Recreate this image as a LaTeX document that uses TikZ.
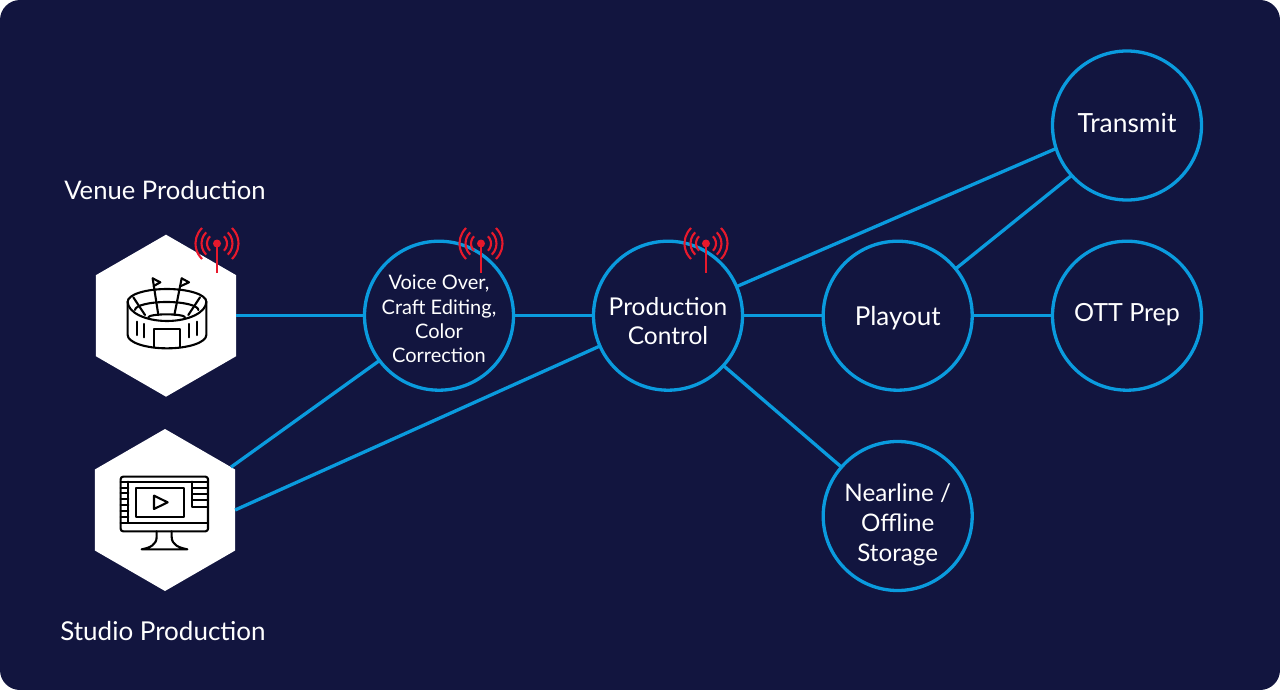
\documentclass[tikz,border=0pt]{standalone}
\usepackage{fontspec}
\setmainfont{Lato}
\usetikzlibrary{shapes.geometric}
\definecolor{bgnavy}{HTML}{12153F}
\definecolor{linkblue}{HTML}{0A9BDE}
\definecolor{sigred}{HTML}{E8192C}
\tikzset{
  ring/.style={circle,draw=linkblue,line width=3.3pt,minimum size=149pt,inner sep=0pt,outer sep=0pt},
  ringtext/.style={text=white,align=center,inner sep=0pt,font=\fontsize{#1}{29.7}\selectfont},
  hexa/.style={regular polygon,regular polygon sides=6,shape border rotate=30,fill=white,minimum size=162pt,inner sep=0pt,outer sep=0pt},
  link/.style={draw=linkblue,line width=3.3pt},
  hexcaption/.style={text=white,font=\fontsize{#1}{30}\selectfont,inner sep=0pt},
  icon/.style={draw=black,line width=2.1pt,line join=round,line cap=round},
}
\newcommand{\mysignal}[1]{%
  \begin{scope}[shift={(#1)}]
    \draw[sigred,line width=2pt] (0pt,0pt) -- (0pt,-29pt);
    \fill[sigred] (0pt,0pt) circle (4pt);
    \foreach \r in {10,15.5,21.5}{
      \draw[sigred,line width=2.1pt] ([shift={(-46:\r pt)}]0pt,0pt) arc[start angle=-46,end angle=46,radius=\r pt];
      \draw[sigred,line width=2.1pt] ([shift={(134:\r pt)}]0pt,0pt) arc[start angle=134,end angle=226,radius=\r pt];
    }
  \end{scope}}
\begin{document}
\begin{tikzpicture}[x=1pt,y=-1pt]
\useasboundingbox (0,0) rectangle (1280,690);
\fill[white] (0,0) rectangle (1280,690);
\fill[bgnavy,rounded corners=20pt] (0,0) rectangle (1280,690);

\node[hexa] (venue) at (166,315.7) {};
\node[hexa] (studio) at (165,510) {};
\node[ring,label={[ringtext=20,font=\fontsize{20}{24.3}\selectfont,yshift=-3.5pt]center:{Voice Over,\\Craft Editing,\\Color\\Correction}}] (voice) at (439,315.7) {};
\node[ring,label={[ringtext=24.5,font=\fontsize{24.5}{29}\selectfont,yshift=-5.3pt]center:{Production\\Control}}] (control) at (668,315.7) {};
\node[ring,label={[ringtext=26,yshift=-2pt]center:{Playout}}] (playout) at (897.7,315.7) {};
\node[ring,label={[ringtext=25,yshift=1.5pt]center:{OTT Prep}}] (ott) at (1127,315.7) {};
\node[ring,label={[ringtext=26.4,yshift=2.5pt]center:{Transmit}}] (transmit) at (1127,125.5) {};
\node[ring,label={[ringtext=24.2,font=\fontsize{24.2}{30}\selectfont,yshift=-8.5pt]center:{Nearline /\\Offline\\Storage}}] (nearline) at (897.7,516) {};

\node[hexcaption=25.6] (venuecap) at (165,190) {Venue Production};
\node[hexcaption=26] (studiocap) at (163,631) {Studio Production};

\draw[link] (venue.east) -- (voice.west);
\draw[link] (voice.east) -- (control.west);
\draw[link] (control.east) -- (playout.west);
\draw[link] (playout.east) -- (ott.west);
\draw[link] (studio.33) -- (voice.217);
\draw[link] (studio.east) -- (control.204);
\draw[link] (control.23) -- (transmit.198);
\draw[link] (control.-42) -- (nearline.139);
\draw[link] (playout.39) -- (transmit.222);

% stadium icon
\begin{scope}[shift={(80,220)},x=0.33333pt,y=-0.33333pt]
  \draw[icon] (143,245) arc[start angle=180,end angle=0,x radius=118pt*0.33333,y radius=38pt*0.33333]
     -- (379,345) arc[start angle=0,end angle=-180,x radius=118pt*0.33333,y radius=40pt*0.33333] -- cycle;
  \draw[icon] (143,245) arc[start angle=180,end angle=360,x radius=118pt*0.33333,y radius=58pt*0.33333];
  \draw[icon] (165,270) arc[start angle=180,end angle=0,x radius=95pt*0.33333,y radius=24pt*0.33333];
  \draw[icon] (205,292) arc[start angle=180,end angle=0,x radius=55pt*0.33333,y radius=9pt*0.33333];
  \draw[icon] (218,175) -- (235,285);
  \draw[icon] (305,175) -- (283,285);
  \draw[icon] (218,175) -- (241,187) -- (221,198);
  \draw[icon] (305,175) -- (327,187) -- (303,198);
  \draw[icon] (160,232) -- (195,285);
  \draw[icon] (360,232) -- (325,285);
  \draw[icon] (222,380) -- (222,328) -- (300,328) -- (300,380);
  \draw[icon] (170,305) -- (170,345);
  \draw[icon] (192,312) -- (192,352);
  \draw[icon] (328,312) -- (328,352);
  \draw[icon] (352,305) -- (352,345);
\end{scope}

% monitor icon
\begin{scope}[shift={(80,420)},x=0.33333pt,y=-0.33333pt]
  \draw[icon,rounded corners=2.5pt] (122,170) rectangle (384,334);
  \draw[icon] (122,185) -- (384,185);
  \draw[icon] (122,308) -- (384,308);
  \draw[icon] (145,185) -- (145,308);
  \foreach \yy in {203,220,238,255,272,290} \draw[icon] (122,\yy) -- (145,\yy);
  \draw[icon] (168,204) rectangle (312,290);
  \draw[icon] (222,227) -- (263,247) -- (222,267) -- cycle;
  \draw[icon] (337,185) -- (337,260) -- (384,260);
  \foreach \yy in {205,223,241} \draw[icon] (337,\yy) -- (384,\yy);
  \draw[icon] (230,334) -- (230,350) .. controls (230,375) and (210,383) .. (185,388) -- (322,388) .. controls (297,383) and (275,375) .. (275,350) -- (275,334);
\end{scope}

\mysignal{217,243.5}
\mysignal{481,243.5}
\mysignal{706,243.5}
\end{tikzpicture}
\end{document}
